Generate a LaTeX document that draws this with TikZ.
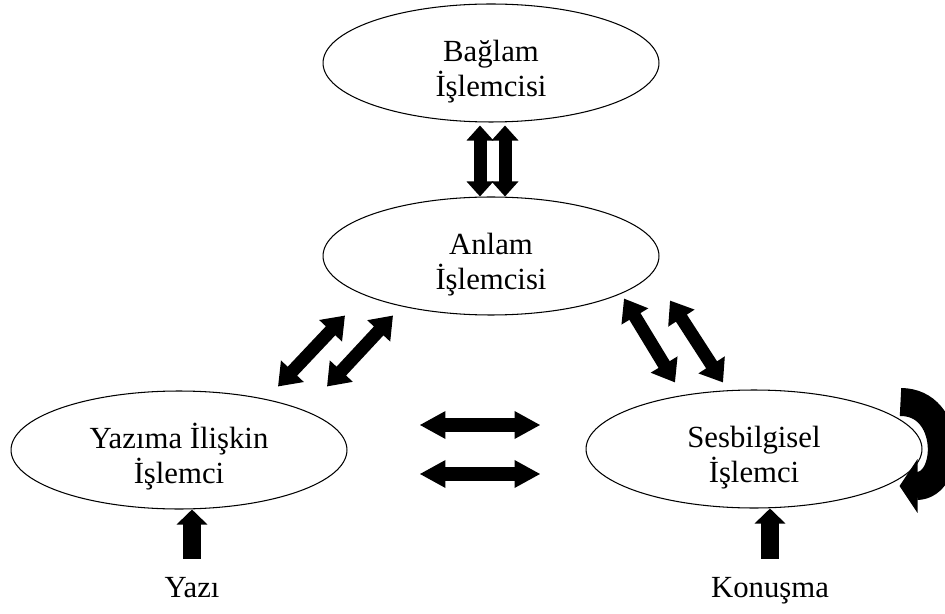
\documentclass[tikz,border=0pt]{standalone}
\usepackage{fontspec}
\setmainfont{Liberation Serif}
\usetikzlibrary{arrows.meta,shapes.geometric,calc}

\begin{document}
\begin{tikzpicture}[
        x=0.02cm, y=-0.02cm,
        proc/.style={ellipse, draw=black, line width=0.6pt, minimum width=6.72cm,
            minimum height=2.36cm, inner sep=0pt, align=center, text height=42.6pt,
            text depth=4pt, font=\fontsize{17.5}{20}\selectfont},
        lbl/.style={inner sep=0pt, anchor=base, font=\fontsize{17.5}{20}\selectfont},
        vv/.style={line width=0.26cm, >={Triangle[width=0.52cm,length=0.3cm]}, <->},
        hh/.style={line width=0.28cm, >={Triangle[width=0.52cm,length=0.52cm]}, <->},
        dd/.style={line width=0.26cm, >={Triangle[width=0.6cm,length=0.42cm]}, <->},
        up/.style={line width=0.36cm, >={Triangle[width=0.6cm,length=0.3cm]}, ->},
        selfloop/.style={line width=0.56cm, >={Triangle[width=1.06cm,length=0.36cm]}, ->},
    ]
    \useasboundingbox (0,0) rectangle (945,614);
    % processors
    \node[proc] (baglam) at (491,63) {Bağlam\\İşlemcisi};
    \node[proc] (anlam) at (491,256) {Anlam\\İşlemcisi};
    \node[proc] (yazima) at (179,450) {Yazıma İlişkin\\İşlemci};
    \node[proc] (sesbil) at (754,449) {Sesbilgisel\\İşlemci};
    % inputs
    \node[lbl] (yazi) at (192,597) {Yazı};
    \node[lbl] (konusma) at (770,597) {Konuşma};

    \draw[vv] ($(baglam.south)+(-11,3)$) -- ($(anlam.north)+(-11,0)$);
    \draw[vv] ($(baglam.south)+(14,3)$) -- ($(anlam.north)+(14,0)$);

    \draw[dd] ($(yazima.north)+(99,-4)$) -- ($(anlam.south)+(-146,0)$);
    \draw[dd] ($(yazima.north)+(148,-4)$) -- ($(anlam.south)+(-98,0)$);
    \draw[dd] ($(anlam.south)+(133,-17)$) -- ($(sesbil.north)+(-79,-7)$);
    \draw[dd] ($(anlam.south)+(179,-15)$) -- ($(sesbil.north)+(-31,-7)$);

    \draw[hh] ($(yazima.east)+(72,-25)$) -- ($(sesbil.west)+(-45,-24)$);
    \draw[hh] ($(yazima.east)+(72,24)$) -- ($(sesbil.west)+(-45,25)$);

    \draw[up] ($(yazi.north)+(0,-18)$) -- (yazi.north |- yazima.south);
    \draw[up] ($(konusma.north)+(0,-18)$) -- (konusma.north |- sesbil.south);

    % loop on the phonological processor
    \draw[selfloop] ($(sesbil.east)+(-22,-47)$) to[out=0,in=0,looseness=1.6]
        ($(sesbil.east)+(-23,37)$);
\end{tikzpicture}
\end{document}
